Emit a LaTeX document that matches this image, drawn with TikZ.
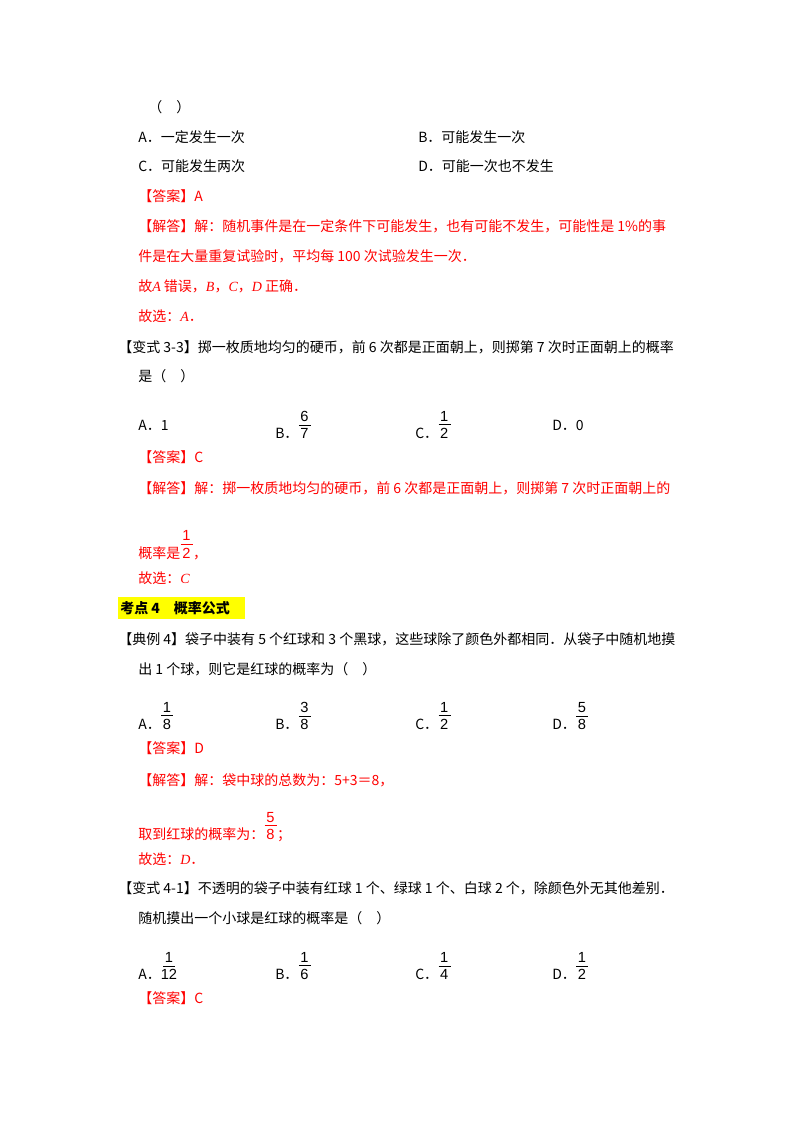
\documentclass[tikz,border=0pt]{standalone}
\usepackage{fontspec}
\setmainfont{Noto Sans CJK SC}
\newfontfamily\latf{Liberation Serif}
\newfontfamily\fracf{Liberation Sans}
\newcommand{\iv}[1]{{\latf\itshape #1}}
\newcommand{\fr}[2]{\tikz[baseline=(fb.base)]{\node[inner sep=0pt,font=\fracf\fontsize{11pt}{11pt}\selectfont] (fn) {#1};\draw[line width=0.6pt] ([yshift=-2.5pt]fn.south west) ++(-1pt,0) -- ++(9pt,0);\node[inner sep=0pt,font=\fracf\fontsize{11pt}{11pt}\selectfont,anchor=north] (fb) at ([yshift=-5pt]fn.south) {#2};}}
\definecolor{ansred}{RGB}{255,0,0}
\definecolor{hl}{RGB}{255,255,0}
\begin{document}
\begin{tikzpicture}[x=0.75pt,y=-0.75pt,
  t/.style={anchor=west,inner sep=0pt,font=\fontsize{10.5pt}{12pt}\selectfont},
  r/.style={t,text=ansred}]
\useasboundingbox[fill=white] (0,0) rectangle (800,1132);
\node[t] (l1) at (148,107) {（\quad ）};
\node[t] (a1) at (138,137) {A．一定发生一次};
\node[t] (b1) at (418,137) {B．可能发生一次};
\node[t] (c1) at (138,166) {C．可能发生两次};
\node[t] (d1) at (418,166) {D．可能一次也不发生};
\node[r] (ans1) at (138,196) {【答案】A};
\node[r] (s1) at (138,226) {【解答】解：随机事件是在一定条件下可能发生，也有可能不发生，可能性是 1\%的事};
\node[r] (s2) at (138,256) {件是在大量重复试验时，平均每 100 次试验发生一次．};
\node[r] (s3) at (138,286) {故\iv{A} 错误，\iv{B}，\iv{C}，\iv{D} 正确．};
\node[r] (s4) at (138,316) {故选：\iv{A}．};
\node[t] (q2) at (118,347) {【变式 3-3】掷一枚质地均匀的硬币，前 6 次都是正面朝上，则掷第 7 次时正面朝上的概率};
\node[t] (q2b) at (138,376) {是（\quad ）};
\node[t] (a2) at (138,425) {A．1};
\node[t] (b2) at (275,425) {B．\fr{6}{7}};
\node[t] (c2) at (415,425) {C．\fr{1}{2}};
\node[t] (d2) at (552,425) {D．0};
\node[r] (ans2) at (138,457) {【答案】C};
\node[r] (s5) at (138,488) {【解答】解：掷一枚质地均匀的硬币，前 6 次都是正面朝上，则掷第 7 次时正面朝上的};
\node[r] (s6) at (138,545) {概率是\fr{1}{2}，};
\node[r] (s7) at (138,578) {故选：\iv{C}};
\fill[hl] (118,597) rectangle (245,619);
\node[t,font=\fontsize{10.5pt}{12pt}\selectfont\bfseries] (k4) at (120,608) {考点 4\quad 概率公式};
\node[t] (q3) at (118,639) {【典例 4】袋子中装有 5 个红球和 3 个黑球，这些球除了颜色外都相同．从袋子中随机地摸};
\node[t] (q3b) at (138,669) {出 1 个球，则它是红球的概率为（\quad ）};
\node[t] (a3) at (138,716) {A．\fr{1}{8}};
\node[t] (b3) at (275,716) {B．\fr{3}{8}};
\node[t] (c3) at (415,716) {C．\fr{1}{2}};
\node[t] (d3) at (552,716) {D．\fr{5}{8}};
\node[r] (ans3) at (138,748) {【答案】D};
\node[r] (s8) at (138,780) {【解答】解：袋中球的总数为：5+3＝8，};
\node[r] (s9) at (138,827) {取到红球的概率为：\fr{5}{8}；};
\node[r] (s10) at (138,859) {故选：\iv{D}．};
\node[t] (q4) at (118,888) {【变式 4-1】不透明的袋子中装有红球 1 个、绿球 1 个、白球 2 个，除颜色外无其他差别．};
\node[t] (q4b) at (138,918) {随机摸出一个小球是红球的概率是（\quad ）};
\node[t] (a4) at (138,966) {A．\fr{1}{12}};
\node[t] (b4) at (275,966) {B．\fr{1}{6}};
\node[t] (c4) at (415,966) {C．\fr{1}{4}};
\node[t] (d4) at (552,966) {D．\fr{1}{2}};
\node[r] (ans4) at (138,998) {【答案】C};
\end{tikzpicture}
\end{document}
